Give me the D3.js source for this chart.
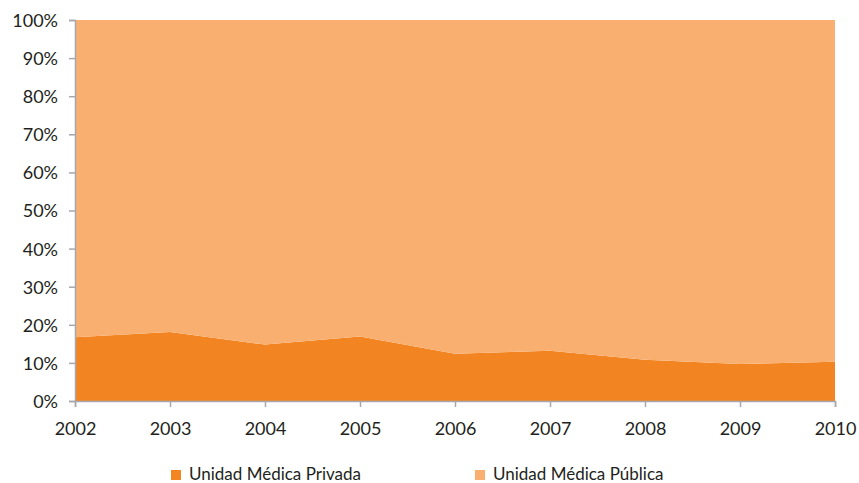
<!DOCTYPE html>
<html>
<head>
<meta charset="utf-8">
<script src="https://cdn.jsdelivr.net/npm/d3@7"></script>
<style>
  html, body { margin: 0; padding: 0; background: #fff; }
  svg { display: block; font-family: Lato, "Open Sans", sans-serif; }
</style>
</head>
<body>
<svg id="chart" width="859" height="483"></svg>
<script>
// Share of care by provider type, 2002–2010 (percent)
const years = [2002, 2003, 2004, 2005, 2006, 2007, 2008, 2009, 2010];
const privada = [16.7, 18.1, 14.8, 16.9, 12.4, 13.2, 10.8, 9.7, 10.3];
const publica = privada.map(v => 100 - v);
const yTicks = [0, 10, 20, 30, 40, 50, 60, 70, 80, 90, 100];
const seriesNames = ["Unidad Médica Privada", "Unidad Médica Pública"];
const seriesColors = ["#F28522", "#F9AF70"];

const svg = d3.select("#chart");
const margin = { left: 75, right: 24, top: 20, bottom: 82 };
const W = 859, H = 483;
const fontSize = "18px";

const x = d3.scaleLinear().domain([years[0], years[years.length - 1]]).range([margin.left, W - margin.right]);
const y = d3.scaleLinear().domain([0, 100]).range([H - margin.bottom, margin.top]);

const rows = years.map((yr, i) => ({ year: yr, privada: privada[i], publica: publica[i] }));
const stacked = d3.stack().keys(["privada", "publica"])(rows);

const area = d3.area()
  .x(d => x(d.data.year))
  .y0(d => y(d[0]))
  .y1(d => y(d[1]));

svg.append("g").selectAll("path")
  .data(stacked)
  .join("path")
  .attr("d", area)
  .attr("fill", (d, i) => seriesColors[i]);

const axisColor = "#a7a7ad";
const textColor = "#231f20";

// Y axis
const yAxis = svg.append("g")
  .attr("transform", `translate(${margin.left},0)`)
  .call(d3.axisLeft(y).tickValues(yTicks).tickFormat(d => d + "%").tickSize(6).tickPadding(11));
yAxis.select(".domain").attr("stroke", axisColor).attr("stroke-width", 1.5);
yAxis.selectAll(".tick line").attr("stroke", axisColor).attr("stroke-width", 1.5);
yAxis.selectAll(".tick text")
  .attr("fill", textColor)
  .attr("dy", "0.36em")
  .style("font-size", fontSize)
  .style("font-family", "Lato, sans-serif");

// X axis
const xAxis = svg.append("g")
  .attr("transform", `translate(0,${y(0)})`)
  .call(d3.axisBottom(x).tickValues(years).tickFormat(d3.format("d")).tickSize(6).tickPadding(15));
xAxis.select(".domain").attr("stroke", axisColor).attr("stroke-width", 1.5);
xAxis.selectAll(".tick line").attr("stroke", axisColor).attr("stroke-width", 1.5);
xAxis.selectAll(".tick text")
  .attr("fill", textColor)
  .style("font-size", fontSize)
  .style("font-family", "Lato, sans-serif");

// Legend
const legendX = [171, 475];
const legend = svg.append("g").selectAll("g")
  .data(seriesNames)
  .join("g")
  .attr("transform", (d, i) => `translate(${legendX[i]},470)`);
legend.append("rect")
  .attr("width", 10).attr("height", 10)
  .attr("fill", (d, i) => seriesColors[i]);
legend.append("text")
  .attr("x", 18).attr("y", 10)
  .attr("fill", textColor)
  .style("font-size", "17px")
  .text(d => d);
</script>
</body>
</html>
